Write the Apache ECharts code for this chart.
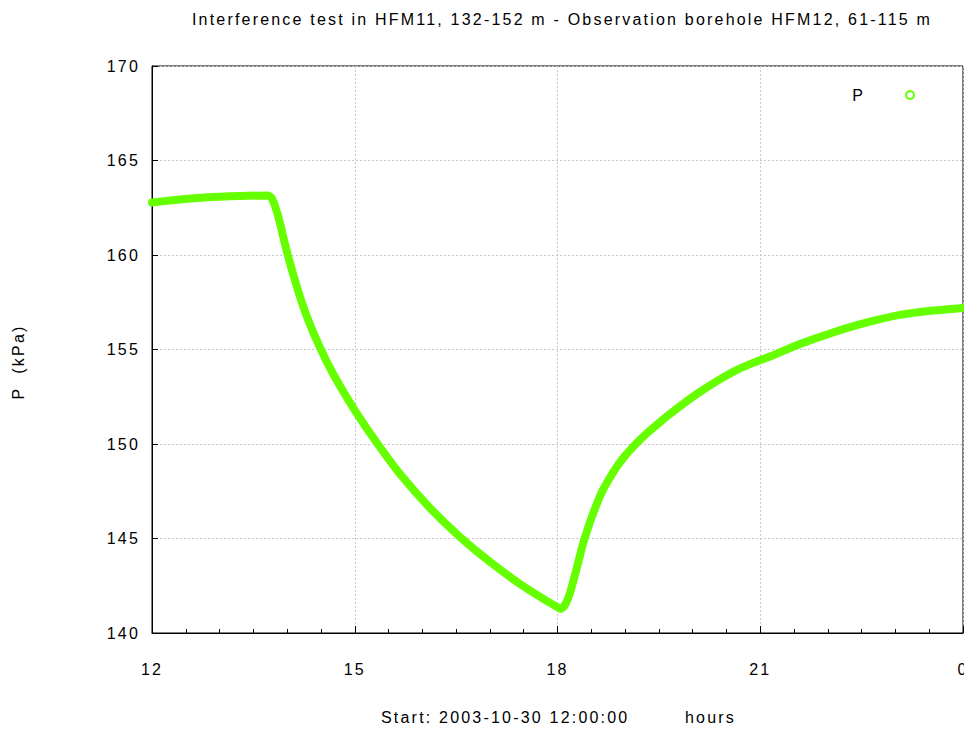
<!DOCTYPE html>
<html>
<head>
<meta charset="utf-8">
<script src="https://cdn.jsdelivr.net/npm/echarts@6/dist/echarts.min.js"></script>
<style>
  html, body { margin: 0; padding: 0; background: #fff; }
  #chart { width: 964px; height: 731px; }
  /* loose tracking of the plot lettering */
  #chart svg text { letter-spacing: 2.2px; }
</style>
</head>
<body>
<div id="chart"></div>
<script>
// Clock time in hours (12 = start, 24 = midnight) and pressure observed in HFM12, 61-115 m
var timeHours = [12.000, 12.340, 12.814, 13.302, 13.716, 13.776, 13.835, 13.894, 13.953, 13.998,
  14.057, 14.131, 14.220, 14.323, 14.456, 14.604, 14.782, 15.018, 15.329, 15.670,
  16.114, 16.558, 17.002, 17.446, 17.815, 17.993, 18.052, 18.111, 18.185, 18.289,
  18.377, 18.451, 18.525, 18.599, 18.673, 18.777, 18.880, 18.999, 19.117, 19.250,
  19.369, 19.517, 19.665, 19.857, 20.064, 20.257, 20.464, 20.656, 20.893, 21.144,
  21.588, 22.077, 22.580, 23.068, 23.556, 24.000];
var pressureKPa = [162.78, 162.91, 163.05, 163.12, 163.15, 162.99, 162.43, 161.69, 160.79, 160.16,
  159.37, 158.47, 157.46, 156.46, 155.34, 154.23, 153.07, 151.69, 150.05, 148.41,
  146.61, 145.08, 143.76, 142.59, 141.75, 141.38, 141.27, 141.48, 142.12, 143.49,
  144.71, 145.56, 146.30, 146.98, 147.57, 148.23, 148.81, 149.37, 149.84, 150.32,
  150.71, 151.16, 151.59, 152.12, 152.65, 153.10, 153.55, 153.92, 154.29, 154.63,
  155.29, 155.90, 156.43, 156.83, 157.06, 157.20];

var seriesName = 'P';
var chartTitle = 'Interference test in HFM11, 132-152 m - Observation borehole HFM12, 61-115 m';
var xStartLabel = 'Start: 2003-10-30 12:00:00';
var xUnitLabel = 'hours';
var yAxisLabel = 'P  (kPa)';

var points = timeHours.map(function (t, i) { return [t, pressureKPa[i]]; });

var FONT = '"Liberation Sans", Arial, sans-serif';
var GREEN = '#66ff00';
var chart = echarts.init(document.getElementById('chart'), null, { renderer: 'svg' });

chart.setOption({
  animation: false,
  backgroundColor: '#ffffff',
  title: {
    text: chartTitle,
    left: 557,
    textAlign: 'center',
    top: 6,
    textStyle: { fontFamily: FONT, fontSize: 16, fontWeight: 'normal', color: '#000' }
  },
  legend: {
    data: [{ name: seriesName, icon: 'emptyCircle' }],
    right: 44,
    top: 82,
    align: 'right',
    itemWidth: 8,
    itemHeight: 8,
    textStyle: { fontFamily: FONT, fontSize: 16, color: '#000', padding: [0, 36, 0, 0] }
  },
  grid: {
    left: 152, top: 66, right: 1, bottom: 98,
    outerBoundsMode: 'none',
    containLabel: false,
    show: true, borderColor: '#000', borderWidth: 1, backgroundColor: 'transparent'
  },
  xAxis: {
    type: 'value',
    min: 12, max: 24, interval: 3,
    axisLine: { lineStyle: { color: '#000', width: 1 } },
    axisTick: { inside: true, length: 7, lineStyle: { color: '#000' } },
    minorTick: { show: true, splitNumber: 6, length: 4, lineStyle: { color: '#000' } },
    splitLine: { show: true, lineStyle: { color: '#c8c8c8', type: [2, 2], width: 1 } },
    axisLabel: {
      fontFamily: FONT, fontSize: 16, color: '#000', margin: 28,
      formatter: function (v) { return String(v % 24); }
    }
  },
  yAxis: {
    type: 'value',
    min: 140, max: 170, interval: 5,
    axisLine: { show: true, lineStyle: { color: '#000', width: 1 } },
    axisTick: { show: true, inside: true, length: 6, lineStyle: { color: '#000' } },
    splitLine: { show: true, lineStyle: { color: '#c8c8c8', type: [2, 2], width: 1 } },
    axisLabel: { fontFamily: FONT, fontSize: 16, color: '#000', margin: 12 }
  },
  graphic: [
    {
      type: 'text', x: 18, y: 362, rotation: Math.PI / 2,
      style: { text: yAxisLabel, font: '16px ' + FONT, fill: '#000', align: 'center', verticalAlign: 'middle' }
    },
    { type: 'text', left: 381, top: 709, style: { text: xStartLabel, font: '16px ' + FONT, fill: '#000' } },
    { type: 'text', left: 685, top: 709, style: { text: xUnitLabel, font: '16px ' + FONT, fill: '#000' } }
  ],
  series: [{
    name: seriesName,
    type: 'line',
    data: points,
    symbol: 'emptyCircle',
    showSymbol: false,
    smooth: 0.2,
    color: GREEN,
    lineStyle: { color: GREEN, width: 8, cap: 'round', join: 'round' },
    itemStyle: { color: GREEN, borderColor: GREEN },
    clip: false
  }]
});
</script>
</body>
</html>
